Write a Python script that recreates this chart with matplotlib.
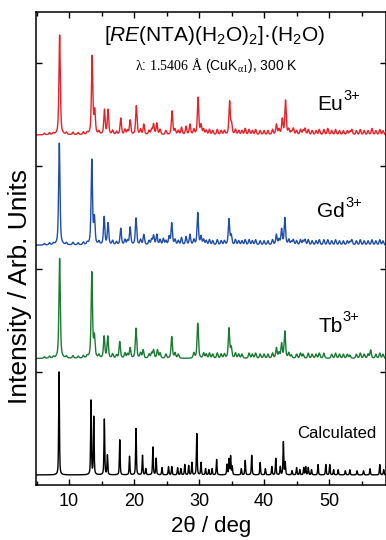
import numpy as np
import matplotlib
matplotlib.use("Agg")
import matplotlib.pyplot as plt
from matplotlib.ticker import MultipleLocator

plt.rcParams['font.family'] = ['Liberation Sans', 'DejaVu Sans']
plt.rcParams['mathtext.fontset'] = 'custom'
plt.rcParams['mathtext.rm'] = 'Liberation Serif'
plt.rcParams['mathtext.sf'] = 'Liberation Sans'
plt.rcParams['mathtext.it'] = 'Liberation Sans:italic'

# ---- data: peak positions (2theta, deg) and relative heights ----
calc_pos = [8.46, 13.38, 13.80, 15.43, 15.90, 17.80, 19.30, 20.30, 21.30, 21.80, 22.90, 23.40,
            24.30, 25.30, 25.80, 26.70, 27.20, 27.80, 28.40, 28.90, 29.65, 30.30, 31.00, 31.50,
            32.00, 32.70, 34.30, 34.60, 34.85, 35.10, 36.50, 37.10, 38.10, 39.40, 40.20, 41.20,
            41.80, 42.50, 42.97, 43.25, 44.30, 45.00, 45.50, 46.10, 46.40, 46.80, 47.30, 48.30,
            49.50, 50.10, 50.70, 51.40, 52.50, 53.20, 54.30, 55.30, 56.30, 57.80, 58.40]
calc_h = [1.00, 0.72, 0.56, 0.54, 0.19, 0.34, 0.18, 0.45, 0.19, 0.06, 0.27, 0.16,
          0.07, 0.08, 0.08, 0.07, 0.06, 0.10, 0.09, 0.12, 0.40, 0.12, 0.06, 0.05,
          0.06, 0.15, 0.10, 0.15, 0.18, 0.08, 0.06, 0.14, 0.19, 0.12, 0.06, 0.08,
          0.16, 0.08, 0.32, 0.12, 0.04, 0.07, 0.05, 0.07, 0.08, 0.07, 0.05, 0.10,
          0.10, 0.10, 0.05, 0.05, 0.04, 0.05, 0.04, 0.04, 0.06, 0.10, 0.05]

tb_pos = [8.55, 13.50, 13.90, 15.40, 15.95, 17.80, 19.40, 20.30, 21.40, 23.00, 23.60, 25.80,
          29.80, 34.60, 34.95, 41.90, 42.70, 43.20, 56.40]
tb_h = [0.97, 0.83, 0.20, 0.21, 0.21, 0.16, 0.10, 0.29, 0.08, 0.08, 0.08, 0.21,
        0.34, 0.29, 0.10, 0.10, 0.14, 0.26, 0.08]

gd_pos = [8.50, 13.50, 13.90, 15.40, 16.00, 17.95, 19.40, 20.30, 21.50, 23.00, 23.50, 24.50,
          25.40, 25.80, 27.30, 28.00, 28.60, 29.80, 30.30, 34.60, 34.95, 37.10, 41.90, 42.70,
          43.20, 44.50, 46.30, 49.80, 53.50, 56.60]
gd_h = [0.99, 0.82, 0.25, 0.27, 0.21, 0.16, 0.17, 0.26, 0.10, 0.09, 0.10, 0.06,
        0.08, 0.21, 0.07, 0.08, 0.10, 0.31, 0.08, 0.25, 0.09, 0.05, 0.10, 0.15,
        0.26, 0.05, 0.05, 0.05, 0.05, 0.05]

eu_pos = [8.55, 13.55, 13.95, 15.45, 16.00, 17.95, 19.40, 20.35, 21.50, 23.00, 23.50, 25.85,
          27.30, 28.00, 28.60, 29.85, 30.30, 34.70, 35.00, 37.10, 41.90, 42.80, 43.30, 44.50,
          46.30, 49.80, 53.50, 56.60]
eu_h = [0.97, 0.76, 0.22, 0.24, 0.24, 0.16, 0.14, 0.28, 0.10, 0.10, 0.11, 0.23,
        0.07, 0.08, 0.10, 0.36, 0.09, 0.32, 0.10, 0.06, 0.10, 0.15, 0.33, 0.06,
        0.06, 0.06, 0.05, 0.06]

# weak reflections / background texture seen in the measured traces
weak_pos = [6.2, 7.0, 7.6, 9.6, 10.6, 11.4, 12.2, 12.8, 14.6, 16.7, 17.3, 18.6, 19.0, 21.0,
            22.3, 22.7, 24.0, 24.9, 26.3, 26.8, 29.2, 30.7, 31.1, 31.6, 32.1, 32.8, 33.4,
            33.9, 35.6, 36.1, 36.6, 37.7, 38.2, 38.7, 39.4, 40.0, 40.6, 41.3, 42.3, 43.8,
            44.2, 45.0, 45.6, 46.0, 46.8, 47.4, 48.0, 48.5, 49.2, 50.4, 51.0, 51.6, 52.2,
            52.8, 53.2, 54.2, 54.8, 55.4, 56.0, 57.2, 57.8, 58.3]
weak_h = [0.015, 0.02, 0.015, 0.02, 0.025, 0.02, 0.025, 0.02, 0.03, 0.04, 0.03, 0.05, 0.04,
          0.05, 0.04, 0.05, 0.05, 0.04, 0.05, 0.04, 0.05, 0.05, 0.04, 0.05, 0.04, 0.05,
          0.04, 0.04, 0.05, 0.04, 0.04, 0.05, 0.04, 0.05, 0.04, 0.04, 0.04, 0.05, 0.05,
          0.05, 0.03, 0.04, 0.05, 0.04, 0.05, 0.04, 0.04, 0.05, 0.05, 0.04, 0.05, 0.04,
          0.04, 0.04, 0.03, 0.04, 0.05, 0.04, 0.04, 0.04, 0.05, 0.04]

offsets = {'calc': 0.0, 'tb': 1.13, 'gd': 2.23, 'eu': 3.30}
label_main = ['Calculated', 'Tb', 'Gd', 'Eu']
label_sup = ['', '3+', '3+', '3+']
label_xy = [(45.1, 0.36), (48.3, 1.39), (48.2, 2.50), (48.2, 3.54)]
label_size = [12, 15, 15, 15]
colors = ['#000000', '#1B7A34', '#1F4DA8', '#E62129']

x = np.arange(4.9, 58.8, 0.01)


def profile(pos, h, w, eta=0.6):
    y = np.zeros_like(x)
    for p, a in zip(pos, h):
        d = (x - p) / (w / 2)
        y += a * (eta / (1 + d ** 2) + (1 - eta) * np.exp(-np.log(2) * d ** 2))
    return y


calc = profile(calc_pos, calc_h, 0.14, 0.5)
tb = profile(tb_pos + weak_pos, tb_h + weak_h, 0.25)
gd = profile(gd_pos + weak_pos, gd_h + weak_h, 0.25)
eu = profile(eu_pos + weak_pos, eu_h + weak_h, 0.25)

fig = plt.figure(figsize=(3.86, 5.40), dpi=100)
ax = fig.add_axes([0.093, 0.102, 0.906, 0.876])

series = [(calc, 'calc'), (tb, 'tb'), (gd, 'gd'), (eu, 'eu')]
for (y, key), c in zip(series, colors):
    ax.plot(x, y + offsets[key], color=c, lw=1.0)

for lab, sup, (lx, ly), fs in zip(label_main, label_sup, label_xy, label_size):
    t = ax.text(lx, ly, lab, fontsize=fs, ha='left', va='baseline')
    if sup:
        ax.annotate(sup, xy=(1.0, 0.0), xycoords=t, xytext=(0.3, 10.5),
                    textcoords='offset points', fontsize=10.5,
                    ha='left', va='baseline')

ax.text(0.51, 0.975,
        r'[$\mathit{RE}$(NTA)(H$_{\mathsf{2}}$O)$_{\mathsf{2}}$]·(H$_{\mathsf{2}}$O)',
        transform=ax.transAxes, fontsize=15, ha='center', va='top')
ax.text(0.515, 0.877,
        r'$\mathrm{\lambda}$: $\mathrm{1.5406\ Å}$ (CuK$_{\mathrm{\alpha 1}}$), 300 K',
        transform=ax.transAxes, fontsize=10, ha='center', va='baseline')

ax.set_xlim(4.9, 58.7)
ax.set_ylim(-0.097, 4.495)
ax.xaxis.set_major_locator(MultipleLocator(10))
ax.xaxis.set_minor_locator(MultipleLocator(5))
ax.set_yticks([1, 2, 3, 4])
ax.set_yticklabels([])
ax.tick_params(axis='both', which='major', direction='in', length=4.5, width=1,
               top=True, right=True, labelsize=13, pad=6)
ax.tick_params(axis='x', which='minor', direction='in', length=3, width=1, top=True)
for s in ax.spines.values():
    s.set_linewidth(1.1)

ax.set_xlabel('2θ / deg', fontsize=16, labelpad=4)
ax.set_ylabel('Intensity / Arb. Units', fontsize=19)
ax.yaxis.set_label_coords(-0.012, 0.42)

fig.savefig('out.png', dpi=100)
